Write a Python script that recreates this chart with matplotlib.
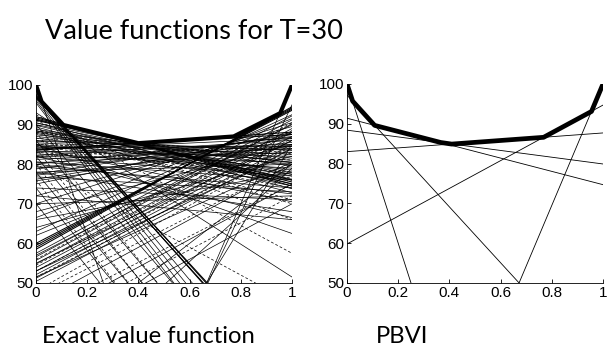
import matplotlib
matplotlib.use("Agg")
import matplotlib.pyplot as plt

# belief domain (both panels)
belief = [0, 1]
x_ticks = [0, 0.2, 0.4, 0.6, 0.8, 1]
x_tick_labels = ["0", "0.2", "0.4", "0.6", "0.8", "1"]
y_ticks = [50, 60, 70, 80, 90, 100]

# ---- exact value function: alpha vectors as (value at b=0, value at b=1)
# thick bundles touching the upper surface
bundle_v0 = [92.0, 91.7, 91.4, 91.1,
             58.5, 59.0, 59.5, 60.0,
             97.6, 97.3, 97.0, 96.8,
             83.5, 83.8]
bundle_v1 = [74.5, 75.0, 75.5, 76.0,
             94.5, 94.2, 93.9, 93.6,
             26.0, 24.6, 26.8, 25.2,
             88.1, 87.5]

# thin solid vectors
solid_v0 = [90.5, 90.0, 89.4, 88.8, 88.1, 87.4, 86.6, 85.8, 85.0, 84.2,
            83.2, 82.2, 81.2, 80.0, 78.8, 77.5, 76.2, 75.0, 89.8, 88.4,
            87.0, 85.4, 84.6, 83.0, 82.6, 81.8, 80.6, 79.4, 78.0, 76.8,
            91.2, 90.4, 88.4, 87.8, 86.0, 84.8, 83.6, 82.0, 80.4, 79.0,
            77.2, 75.8,
            84.0, 82.0, 80.0, 78.0, 85.0, 93.0, 74.0, 72.0, 70.0,
            72.0, 70.0, 66.5, 63.0, 68.0, 64.0, 62.0, 66.0,
            57.5, 56.6, 55.7, 54.8, 53.9, 53.0, 52.1, 51.2, 50.4,
            57.0, 55.0, 53.0, 51.5,
            45.0, 40.0, 35.0, 30.0, 20.0,
            97.0, 96.5, 96.0, 95.5, 100.0,
            90.0, 86.0, 82.0, 78.0, 74.0, 70.0,
            -50.0, -42.0, -20.0]
solid_v1 = [73.8, 77.0, 72.8, 79.5, 76.0, 81.5, 78.5, 83.5, 80.0, 84.5,
            82.0, 86.0, 84.0, 86.8, 85.5, 87.5, 86.5, 88.0, 75.0, 78.0,
            80.5, 82.5, 81.0, 85.0, 79.0, 77.0, 76.0, 74.0, 80.0, 73.0,
            76.2, 77.4, 80.4, 74.5, 83.6, 77.5, 86.5, 80.5, 83.0, 87.0,
            84.5, 85.0,
            70.5, 66.5, 72.5, 68.0, 62.5, 51.5, 71.0, 66.0, 72.0,
            89.5, 90.5, 91.5, 92.5, 85.0, 82.0, 88.0, 78.0,
            92.2, 91.2, 90.2, 89.0, 88.0, 87.0, 86.0, 85.0, 84.0,
            90.0, 86.0, 83.0, 80.5,
            80.0, 75.0, 70.0, 80.0, 79.0,
            20.0, 17.0, 14.0, 11.0, -90.0,
            15.0, 10.0, 5.0, 0.0, -5.0, -10.0,
            100.0, 95.0, 85.0]

# dashed vectors
dashed_v0 = [92.5, 89.0, 86.0, 83.0, 88.0, 84.0, 80.0, 76.0,
             56.0, 54.5, 53.0, 51.5, 47.0, 42.0, 88.0, 85.0, 80.0, 91.0,
             88.5, 84.5, 86.5, 82.0, 48.0, 38.0]
dashed_v1 = [57.5, 70.0, 74.0, 78.0, 8.0, 2.0, -3.0, -8.0,
             90.5, 88.5, 86.5, 84.5, 80.0, 75.0, 81.0, 82.5, 45.0, 66.0,
             71.0, 76.5, 83.0, 84.5, 84.0, 72.0]

exact_env_x = [0, 0.022, 0.107, 0.40, 0.772, 0.954, 1]
exact_env_y = [100, 95.8, 89.9, 85.3, 87.0, 92.9, 100]

# ---- PBVI alpha vectors
pbvi_v0 = [100.0, 97.2, 91.4, 88.4, 83.0, 59.8, -52.5]
pbvi_v1 = [-100.0, 27.0, 74.7, 79.9, 87.7, 94.7, 100.0]
pbvi_env_x = [0, 0.022, 0.108, 0.366, 0.409, 0.768, 0.955, 1]
pbvi_env_y = [100, 95.7, 89.6, 85.3, 84.9, 86.6, 93.1, 100]

fig = plt.figure(figsize=(6.15, 3.56), dpi=100)

ax1 = fig.add_axes([0.0585, 0.2051, 0.4163, 0.5562])
ax2 = fig.add_axes([0.5642, 0.2051, 0.4163, 0.5590])

for a, b in zip(bundle_v0, bundle_v1):
    ax1.plot(belief, [a, b], color="black", lw=0.75)
for a, b in zip(solid_v0, solid_v1):
    ax1.plot(belief, [a, b], color="black", lw=0.5)
for a, b in zip(dashed_v0, dashed_v1):
    ax1.plot(belief, [a, b], color="black", lw=0.5, ls=(0, (4, 3)))
ax1.plot(exact_env_x, exact_env_y, color="black", lw=3.0,
         solid_joinstyle="round")

for a, b in zip(pbvi_v0, pbvi_v1):
    ax2.plot(belief, [a, b], color="black", lw=0.6)
ax2.plot(pbvi_env_x, pbvi_env_y, color="black", lw=3.4,
         solid_joinstyle="round")

for ax in (ax1, ax2):
    ax.set_xlim(0, 1)
    ax.set_ylim(50, 100)
    ax.set_xticks(x_ticks)
    ax.set_xticklabels(x_tick_labels)
    ax.set_yticks(y_ticks)
    ax.spines["top"].set_visible(False)
    ax.spines["right"].set_visible(False)
    ax.spines["left"].set_linewidth(0.6)
    ax.spines["bottom"].set_linewidth(0.6)
    ax.tick_params(direction="in", length=3, width=0.6, pad=2,
                   labelsize=11)
    for lab in ax.get_xticklabels() + ax.get_yticklabels():
        lab.set_fontfamily("Liberation Sans")

fig.text(0.073, 0.89, "Value functions for T=30", fontsize=19.5,
         family="Lato", ha="left", va="baseline")
fig.text(0.068, 0.037, "Exact value function", fontsize=17.2,
         family="Lato", ha="left", va="baseline")
fig.text(0.653, 0.037, "PBVI", fontsize=17.2,
         family="Lato", ha="center", va="baseline")

fig.savefig("out.png", dpi=100)
